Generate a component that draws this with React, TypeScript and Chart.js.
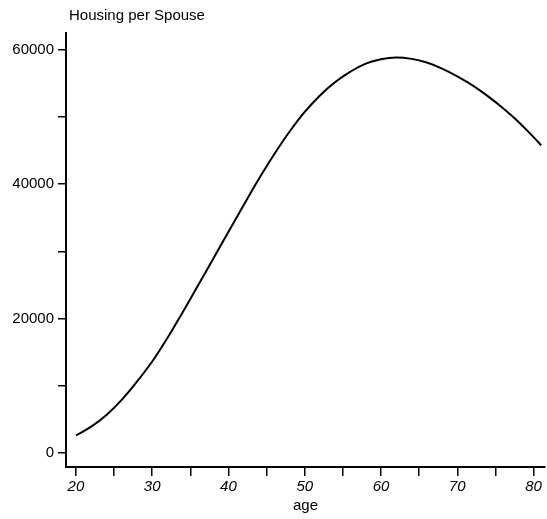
import React, { useEffect, useRef } from "react";
import { Chart, registerables } from "chart.js";

Chart.register(...registerables);

// Age in years and housing per spouse along the fitted profile
const ages = [20, 22, 24, 26, 28, 30, 32, 34, 36, 38, 40, 42, 44, 46, 48, 50, 52, 54, 56, 58, 60, 62, 64, 66, 68, 70, 72, 74, 76, 78, 80, 81];
const housing = [2600, 3900, 5650, 7900, 10600, 13600, 17100, 20950, 24900, 28900, 32900, 36900, 40800, 44450, 47800, 50750, 53200, 55200, 56750, 57950, 58600, 58850, 58650, 58100, 57200, 56050, 54700, 53100, 51300, 49300, 47000, 45800];

// Tick marks: every 5 years / 10000, labels on every 10 years / 20000
const xTicks = [20, 25, 30, 35, 40, 45, 50, 55, 60, 65, 70, 75, 80];
const yTicks = [0, 10000, 20000, 30000, 40000, 50000, 60000];
const xLabelEvery = 10;
const yLabelEvery = 20000;

const yCaption = "Housing per Spouse";
const xCaption = "age";

const FONT = '"Liberation Sans", Arial, Helvetica, sans-serif';

const captionPlugin = {
  id: "yCaption",
  afterDraw(chart: any) {
    const { ctx, chartArea } = chart;
    ctx.save();
    ctx.font = `15px ${FONT}`;
    ctx.fillStyle = "#000";
    ctx.textAlign = "left";
    ctx.textBaseline = "middle";
    ctx.fillText(yCaption, chartArea.left + 3, 16);
    ctx.restore();
  },
};

export default function App() {
  const ref = useRef<HTMLCanvasElement | null>(null);

  useEffect(() => {
    if (!ref.current) return;
    const chart = new Chart(ref.current, {
      type: "line",
      data: {
        datasets: [
          {
            data: ages.map((a, i) => ({ x: a, y: housing[i] })),
            borderColor: "#000",
            borderWidth: 2,
            pointRadius: 0,
            fill: false,
            tension: 0.4,
          },
        ],
      },
      options: {
        animation: false,
        responsive: true,
        maintainAspectRatio: false,
        layout: { padding: { top: 33, right: 2, left: 0, bottom: 0 } },
        plugins: {
          legend: { display: false },
          tooltip: { enabled: false },
        },
        scales: {
          x: {
            type: "linear",
            min: 18.7,
            max: 81.5,
            afterBuildTicks: (scale: any) => {
              scale.ticks = xTicks.map((v) => ({ value: v }));
            },
            afterFit: (scale: any) => {
              scale.height = 52;
            },
            grid: {
              display: true,
              drawOnChartArea: false,
              drawTicks: true,
              tickLength: 9,
              color: "#000",
              lineWidth: 1.5,
            },
            border: { display: true, color: "#000", width: 2 },
            ticks: {
              autoSkip: false,
              maxRotation: 0,
              padding: 2,
              color: "#000",
              font: { family: FONT, size: 15, style: "italic" },
              callback: (v: any) => (Number(v) % xLabelEvery === 0 ? String(v) : ""),
            },
            title: {
              display: true,
              text: xCaption,
              color: "#000",
              font: { family: FONT, size: 15 },
              padding: { top: 0, bottom: 4 },
            },
          },
          y: {
            type: "linear",
            min: -2100,
            max: 62500,
            afterBuildTicks: (scale: any) => {
              scale.ticks = yTicks.map((v) => ({ value: v }));
            },
            afterFit: (scale: any) => {
              scale.width = 66;
            },
            grid: {
              display: true,
              drawOnChartArea: false,
              drawTicks: true,
              tickLength: 8,
              color: "#000",
              lineWidth: 1.5,
            },
            border: { display: true, color: "#000", width: 2 },
            ticks: {
              autoSkip: false,
              padding: 4,
              color: "#000",
              font: { family: FONT, size: 15 },
              callback: (v: any) => (Number(v) % yLabelEvery === 0 ? String(v) : ""),
            },
          },
        },
      },
      plugins: [captionPlugin],
    });
    return () => chart.destroy();
  }, []);

  return (
    <div style={{ position: "absolute", left: 0, top: 0, width: 547, height: 519, background: "#fff" }}>
      <canvas ref={ref} />
    </div>
  );
}
